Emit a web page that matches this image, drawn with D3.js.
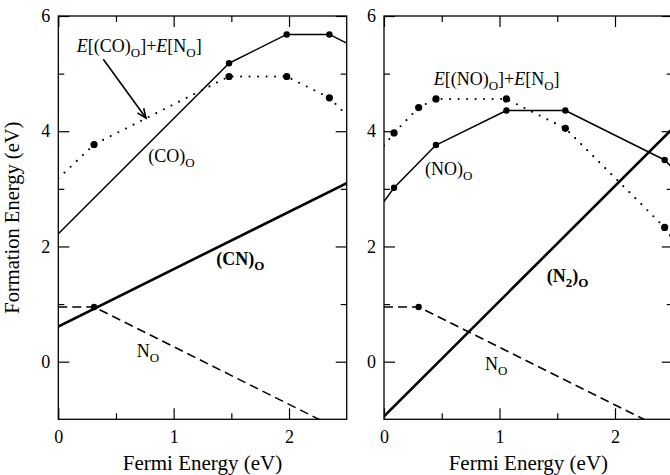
<!DOCTYPE html>
<html><head><meta charset="utf-8">
<script src="https://cdn.jsdelivr.net/npm/d3@7"></script>
<style>
body{margin:0;background:#fff}
text{font-family:"Liberation Serif","Times New Roman",serif;fill:#000}
</style></head>
<body><svg id="c" width="670" height="475"></svg>
<script>
// ---------- data ----------
const xDomain = [0, 2.5];
const yDomain = [-1, 6];
const xTicksMajor = [0, 1, 2];
const xTicksMinor = [0.5, 1.5];
const yTicksMajor = [0, 2, 4, 6];
const yTicksMinor = [1, 3, 5];
const xTitle = "Fermi Energy (eV)";
const yTitle = "Formation Energy (eV)";

// left panel: (CO)_O, E[(CO)_O]+E[N_O], (CN)_O, N_O
const coO      = [[0,2.22],[1.48,5.18],[1.98,5.68],[2.35,5.68],[2.5,5.53]];
const coOMarks = [1,2,3];
const coSum    = [[0,3.18],[0.31,3.77],[1.48,4.95],[1.98,4.95],[2.35,4.58],[2.5,4.28]];
const coSumMarks = [1,2,3,4];
const cnO      = [[0,0.61],[2.5,3.10]];
const nOLeft   = [[0,0.95],[0.31,0.95],[2.5,-1.24]];
const nOLeftMarks = [1];

// right panel: (NO)_O, E[(NO)_O]+E[N_O], (N2)_O, N_O
const noO      = [[0,2.78],[0.087,3.02],[0.45,3.76],[1.06,4.36],[1.57,4.36],[2.43,3.50],[2.5,3.36]];
const noOMarks = [1,2,3,4,5];
const noSum    = [[0,3.75],[0.087,3.97],[0.30,4.41],[0.45,4.56],[1.06,4.56],[1.57,4.05],[2.43,2.33],[2.5,2.12]];
const noSumMarks = [1,2,3,4,5,6];
const n2O      = [[0,-0.95],[2.5,4.05]];
const nORight  = [[0,0.95],[0.30,0.95],[2.5,-1.25]];
const nORightMarks = [1];

// label texts (parts: [text, style])
const lblCoSum = [["E","i"],["[(CO)",""],["O","sub"],["]+",""],["E","i"],["[N",""],["O","sub"],["]",""]];
const lblCoO   = [["(CO)",""],["O","sub"]];
const lblCnO   = [["(CN)",""],["O","sub"]];
const lblNO    = [["N",""],["O","sub"]];
const lblNoSum = [["E","i"],["[(NO)",""],["O","sub"],["]+",""],["E","i"],["[N",""],["O","sub"],["]",""]];
const lblNoO   = [["(NO)",""],["O","sub"]];
const lblN2O   = [["(N",""],["2","sub"],[")",""],["O","sub"]];

// ---------- drawing ----------
const svg = d3.select("#c");
const plotTop = 16, plotBottom = 419.3;
const styles = {
  thin:  {w:1.5, dash:null},
  thick: {w:2.6, dash:null},
  dot:   {w:2.1, dash:"0,8.5"},
  dash:  {w:1.5, dash:"9,5"}
};

const panels = [
  {left:58.3, right:346.7,
   series:[
     {d:coO, m:coOMarks, s:"thin"},
     {d:coSum, m:coSumMarks, s:"dot"},
     {d:cnO, m:[], s:"thick"},
     {d:nOLeft, m:nOLeftMarks, s:"dash"}],
   labels:[
     {t:lblCoSum, x:0.16, y:5.38},
     {t:lblCoO, x:0.78, y:3.46},
     {t:lblCnO, x:1.37, y:1.67, bold:true},
     {t:lblNO, x:0.68, y:0.09}],
   arrow:{x1:0.39,y1:5.25,x2:0.76,y2:4.23},
   yTitle:true},
  {left:384, right:672.75,
   series:[
     {d:noO, m:noOMarks, s:"thin"},
     {d:noSum, m:noSumMarks, s:"dot"},
     {d:n2O, m:[], s:"thick"},
     {d:nORight, m:nORightMarks, s:"dash"}],
   labels:[
     {t:lblNoSum, x:0.43, y:4.80},
     {t:lblNoO, x:0.355, y:3.24},
     {t:lblN2O, x:1.41, y:1.39, bold:true},
     {t:lblNO, x:0.875, y:-0.14}],
   yTitle:false}
];

function richText(g, parts, x, y, bold){
  const t = g.append("text").attr("x", x).attr("y", y)
    .attr("font-size", 18).attr("font-weight", bold ? "bold" : "normal");
  let inSub = false;
  parts.forEach(([s, st]) => {
    const sp = t.append("tspan").text(s);
    if (st === "sub") {
      sp.attr("font-size", 13);
      if (!inSub) sp.attr("dy", 5);
      inSub = true;
    } else {
      if (inSub) sp.attr("dy", -5);
      inSub = false;
      if (st === "i") sp.attr("font-style", "italic");
    }
  });
}

panels.forEach((p, i) => {
  const x = d3.scaleLinear().domain(xDomain).range([p.left, p.right]);
  const y = d3.scaleLinear().domain(yDomain).range([plotBottom, plotTop]);
  const g = svg.append("g");
  const clipId = "clip" + i;
  svg.append("clipPath").attr("id", clipId).append("rect")
    .attr("x", p.left).attr("y", plotTop).attr("width", p.right - p.left).attr("height", plotBottom - plotTop);

  const fmt = d3.format("d");
  g.append("g").attr("transform", `translate(0,${plotBottom})`)
    .call(d3.axisBottom(x).tickValues(xTicksMajor).tickSizeInner(-11).tickSizeOuter(0).tickPadding(10.5).tickFormat(fmt));
  g.append("g").attr("transform", `translate(0,${plotBottom})`)
    .call(d3.axisBottom(x).tickValues(xTicksMinor).tickSizeInner(-6).tickSizeOuter(0).tickFormat(""));
  g.append("g").attr("transform", `translate(0,${plotTop})`)
    .call(d3.axisTop(x).tickValues(xTicksMajor).tickSizeInner(-11).tickSizeOuter(0).tickFormat(""));
  g.append("g").attr("transform", `translate(0,${plotTop})`)
    .call(d3.axisTop(x).tickValues(xTicksMinor).tickSizeInner(-6).tickSizeOuter(0).tickFormat(""));
  g.append("g").attr("transform", `translate(${p.left},0)`)
    .call(d3.axisLeft(y).tickValues(yTicksMajor).tickSizeInner(-11).tickSizeOuter(0).tickPadding(8).tickFormat(fmt));
  g.append("g").attr("transform", `translate(${p.left},0)`)
    .call(d3.axisLeft(y).tickValues(yTicksMinor).tickSizeInner(-6).tickSizeOuter(0).tickFormat(""));
  g.append("g").attr("transform", `translate(${p.right},0)`)
    .call(d3.axisRight(y).tickValues(yTicksMajor).tickSizeInner(-11).tickSizeOuter(0).tickFormat(""));
  g.append("g").attr("transform", `translate(${p.right},0)`)
    .call(d3.axisRight(y).tickValues(yTicksMinor).tickSizeInner(-6).tickSizeOuter(0).tickFormat(""));
  g.selectAll(".domain").remove();
  g.selectAll(".tick line").attr("stroke", "#000").attr("stroke-width", 1.2);
  g.selectAll(".tick text").attr("font-size", 18).attr("font-family", '"Liberation Serif","Times New Roman",serif').attr("fill", "#000");

  g.append("rect").attr("x", p.left).attr("y", plotTop)
    .attr("width", p.right - p.left).attr("height", plotBottom - plotTop)
    .attr("fill", "none").attr("stroke", "#000").attr("stroke-width", 1.3);

  const line = d3.line().x(d => x(d[0])).y(d => y(d[1]));
  const sg = g.append("g").attr("clip-path", `url(#${clipId})`);
  p.series.forEach(s => {
    const st = styles[s.s];
    sg.append("path").datum(s.d).attr("d", line)
      .attr("fill", "none").attr("stroke", "#000")
      .attr("stroke-width", st.w)
      .attr("stroke-dasharray", st.dash)
      .attr("stroke-linecap", s.s === "dot" ? "round" : "butt")
      .attr("stroke-linejoin", "round");
    sg.selectAll(null).data(s.m.map(k => s.d[k])).enter().append("circle")
      .attr("cx", d => x(d[0])).attr("cy", d => y(d[1]))
      .attr("r", s.s === "dot" ? 3.6 : 3.2).attr("fill", "#000");
  });

  p.labels.forEach(l => richText(g, l.t, x(l.x), y(l.y), l.bold));

  if (p.arrow) {
    const a = p.arrow;
    const x1 = x(a.x1), y1 = y(a.y1), x2 = x(a.x2), y2 = y(a.y2);
    g.append("line").attr("x1", x1).attr("y1", y1).attr("x2", x2).attr("y2", y2)
      .attr("stroke", "#000").attr("stroke-width", 1.6);
    const ang = Math.atan2(y2 - y1, x2 - x1);
    const L = 10, W = 0.4;
    const pts = [[x2 - L*Math.cos(ang - W), y2 - L*Math.sin(ang - W)], [x2, y2],
                 [x2 - L*Math.cos(ang + W), y2 - L*Math.sin(ang + W)]];
    g.append("path").attr("d", d3.line()(pts)).attr("fill", "none")
      .attr("stroke", "#000").attr("stroke-width", 1.6);
  }

  g.append("text").attr("x", (p.left + p.right) / 2).attr("y", 470)
    .attr("text-anchor", "middle").attr("font-size", 21).text(xTitle);
  if (p.yTitle) {
    g.append("text").attr("transform", `translate(18.5,${(plotTop + plotBottom) / 2}) rotate(-90)`)
      .attr("text-anchor", "middle").attr("font-size", 20.5).text(yTitle);
  }
});
</script></body></html>
